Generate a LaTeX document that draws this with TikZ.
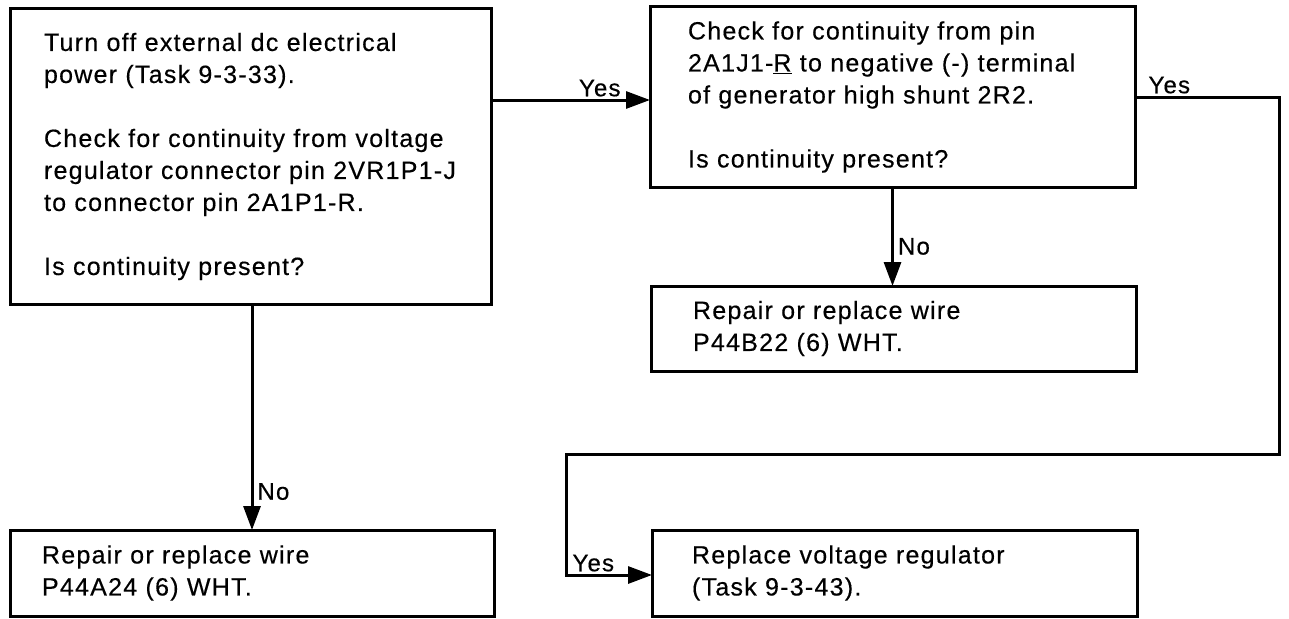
\documentclass[tikz,border=0pt]{standalone}
\usepackage{fontspec}
\setmainfont{Liberation Sans}[LetterSpace=5, FakeBold=0.4]
\usetikzlibrary{arrows.meta}
\begin{document}
\begin{tikzpicture}[x=1pt,y=-1pt,
  box/.style={draw, line width=3pt, anchor=north west, align=left, outer sep=0pt,
    inner ysep=0pt, font=\fontsize{25}{32}\selectfont},
  lab/.style={font=\fontsize{24}{28}\selectfont, inner sep=1pt},
  arr/.style={line width=3pt, -{Triangle[length=24pt,width=17pt]}}]
\useasboundingbox (0,0) rectangle (1289,618);
\node[box, inner xsep=34pt, text width=413pt, minimum height=295pt] (b1) at (10,9)
  {\mbox{Turn off external dc electrical}\\ \mbox{power (Task 9-3-33).}\\[32pt]
   \mbox{Check for continuity from voltage}\\ \mbox{regulator connector pin 2VR1P1-J}\\
   \mbox{to connector pin 2A1P1-R.}\\[32pt] \mbox{Is continuity present?}};
\node[box, inner xsep=38pt, text width=409pt, minimum height=180pt] (b2) at (650,7)
  {\mbox{Check for continuity from pin}\\ \mbox{2A1J1-\underline{R} to negative (-) terminal}\\
   \mbox{of generator high shunt 2R2.}\\[32pt] \mbox{Is continuity present?}};
\node[box, inner xsep=42pt, text width=401pt, minimum height=85pt] (b3) at (651,286)
  {\mbox{Repair or replace wire}\\ \mbox{P44B22 (6) WHT.}};
\node[box, inner xsep=32pt, text width=420pt, minimum height=86pt] (b4) at (10,530)
  {\mbox{Repair or replace wire}\\ \mbox{P44A24 (6) WHT.}};
\node[box, inner xsep=40pt, text width=405pt, minimum height=86pt] (b5) at (652,530)
  {\mbox{Replace voltage regulator}\\ \mbox{(Task 9-3-43).}};
\coordinate (r1) at (1279,454);
\coordinate (l1) at (566,454);
\coordinate (l2) at (566,575);
\draw[arr] ([yshift=-91pt]b1.north east) -- ([yshift=-93pt]b2.north west)
  node[lab, anchor=south east, xshift=-27pt, yshift=1pt] {Yes};
\draw[arr] (b1.south -| b4.north) -- node[lab, anchor=west, pos=0.83, xshift=3pt] {No} (b4.north);
\draw[arr] (b2.south) -- node[lab, anchor=west, pos=0.6, xshift=3pt] {No} (b2.south |- b3.north);
\draw[arr] ([yshift=-90pt]b2.north east) node[lab, anchor=south west, xshift=11pt, yshift=1pt] {Yes}
  -| (r1) -- (l1) -- (l2) node[lab, anchor=south west, xshift=4pt, yshift=1pt] {Yes}
  -- ([yshift=-45pt]b5.north west);
\end{tikzpicture}
\end{document}
